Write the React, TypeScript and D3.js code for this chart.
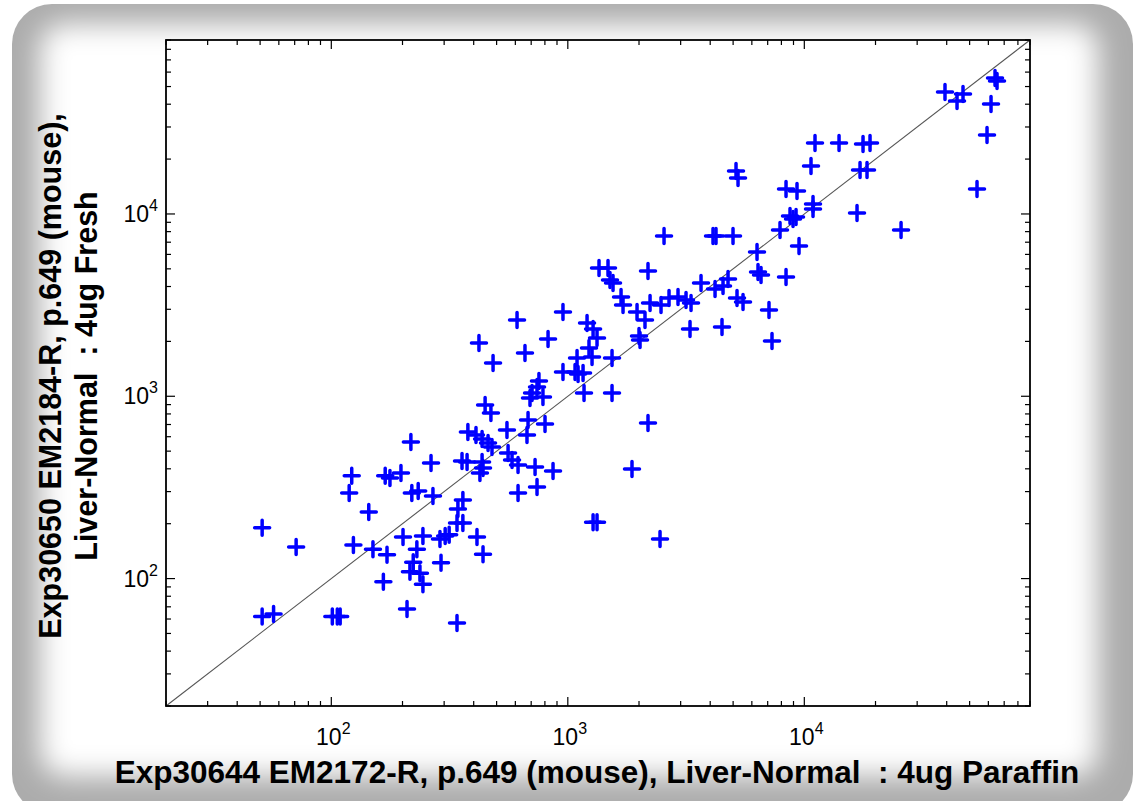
import React, { useEffect, useRef } from 'react';
import * as d3 from 'd3';

// values (x: 4ug Paraffin, y: 4ug Fresh)
const paraffin = [
  51, 71, 51, 57, 101, 106, 109, 122, 119, 144, 124, 150, 172, 169, 177, 197, 201, 244, 230, 222,
  291, 215, 237, 166, 244, 209, 340, 288, 303, 315, 340, 413, 438, 217, 264, 219, 233, 269, 360, 343,
  360, 378, 409, 434, 460, 478, 357, 375, 434, 438, 425, 559, 581, 616, 727, 866, 616, 741, 1279, 447,
  473, 553, 679, 801, 672, 755, 741, 706, 785, 692, 1171, 1538, 2183, 1868, 1329, 2454, 421, 483, 610, 659,
  825, 954, 954, 1073, 1105, 1160, 1094, 1206, 1279, 1329, 1229, 1266, 1538, 1355, 1479, 1508, 1553, 2183, 1679, 1712,
  1962, 2120, 2227, 2478, 2679, 2924, 3161, 3319, 3658, 4193, 4532, 4758, 5193, 5506, 2000, 2020, 3286, 4487, 2552, 4111,
  4232, 4995, 6310, 6371, 6561, 8369, 7090, 7301, 5143, 5245, 8369, 9313, 10884, 10884, 8700, 8959, 9225, 7893, 9497, 16706,
  10673, 17203, 18414, 11097, 14023, 17711, 18960, 25646, 39340, 44230, 46880, 64030, 65290, 61580, 59230, 53730,
];
const fresh = [
  190, 149, 62, 64, 62, 62, 62, 366, 295, 232, 153, 145, 135, 366, 356, 380, 169, 171, 145, 123,
  122, 109, 107, 96, 93, 68, 57, 165, 171, 174, 202, 169, 136, 561, 431, 295, 302, 284, 270, 241,
  202, 637, 614, 583, 554, 527, 442, 436, 436, 404, 380, 489, 447, 420, 409, 389, 295, 318, 204, 896,
  810, 653, 741, 705, 614, 1213, 1125, 1043, 991, 979, 1043, 1043, 714, 399, 204, 165, 1961, 1523, 2621, 1728,
  2062, 2900, 1360, 1360, 1325, 1342, 1622, 2523, 2339, 2088, 1841, 1643, 1622, 5056, 5056, 4345, 4183, 4868, 3505, 3168,
  2900, 2621, 3249, 3168, 3461, 3505, 3375, 3249, 4183, 3878, 4028, 4399, 3461, 3290, 2141, 2036, 2339, 2399, 7574, 7574,
  7574, 7574, 6189, 4808, 4628, 4512, 2974, 2011, 17218, 15763, 13714, 13372, 11347, 10652, 9750, 9389, 9630, 8172, 6675, 10127,
  18336, 17436, 17436, 24522, 24522, 24210, 24522, 8172, 46694, 41690, 45530, 55720, 53660, 40130, 27130, 13714,
];
const axisDomain = [20, 90000];
const labelPowers = [2, 3, 4];
const xTitle = 'Exp30644 EM2172-R, p.649 (mouse), Liver-Normal  : 4ug Paraffin';
const yTitle1 = 'Exp30650 EM2184-R, p.649 (mouse),';
const yTitle2 = 'Liver-Normal  : 4ug Fresh';

const FONT = "'Liberation Sans', Arial, Helvetica, sans-serif";

const App = () => {
  const ref = useRef(null);

  useEffect(() => {
    const svg = d3.select(ref.current);
    svg.selectAll('*').remove();

    const W = 1136;
    const H = 801;
    const left = 166, right = 1030, top = 40, bottom = 706;

    const x = d3.scaleLog().domain(axisDomain).range([left, right]);
    const y = d3.scaleLog().domain(axisDomain).range([bottom, top]);

    // frame with soft gray border
    const defs = svg.append('defs');
    defs.append('filter').attr('id', 'soft')
      .attr('x', '-10%').attr('y', '-10%').attr('width', '120%').attr('height', '120%')
      .append('feGaussianBlur').attr('stdDeviation', 14);

    svg.append('rect').attr('width', W).attr('height', H).attr('fill', '#fff');
    svg.append('rect')
      .attr('x', 12).attr('y', 4).attr('width', 1121).attr('height', 810)
      .attr('rx', 40).attr('fill', '#acacac');
    svg.append('rect')
      .attr('x', 40).attr('y', 24).attr('width', 1058).attr('height', 752)
      .attr('rx', 24).attr('fill', '#fff').attr('filter', 'url(#soft)');

    // plot box
    svg.append('rect')
      .attr('x', left).attr('y', top).attr('width', right - left).attr('height', bottom - top)
      .attr('fill', '#fff');

    const ticks = x.ticks();
    const isMajor = v => Math.abs(Math.log10(v) - Math.round(Math.log10(v))) < 1e-9;
    const tg = svg.append('g').attr('stroke', '#000').attr('stroke-width', 1.2);
    ticks.forEach(v => {
      const len = isMajor(v) ? 9 : 5;
      tg.append('line').attr('x1', x(v)).attr('x2', x(v)).attr('y1', bottom).attr('y2', bottom - len);
      tg.append('line').attr('x1', x(v)).attr('x2', x(v)).attr('y1', top).attr('y2', top + len);
      tg.append('line').attr('y1', y(v)).attr('y2', y(v)).attr('x1', left).attr('x2', left + len);
      tg.append('line').attr('y1', y(v)).attr('y2', y(v)).attr('x1', right).attr('x2', right - len);
    });

    // diagonal y = x
    svg.append('line')
      .attr('x1', x(axisDomain[0])).attr('y1', y(axisDomain[0]))
      .attr('x2', x(axisDomain[1])).attr('y2', y(axisDomain[1]))
      .attr('stroke', '#555').attr('stroke-width', 1.1);

    // markers
    const pts = paraffin.map((p, i) => [p, fresh[i]]);
    const arm = 7.5;
    const mg = svg.append('g')
      .attr('stroke', '#0000ff').attr('stroke-width', 3.5).attr('stroke-linecap', 'round');
    mg.selectAll('path').data(pts).join('path')
      .attr('d', d => {
        const cx = x(d[0]), cy = y(d[1]);
        return `M${cx - arm},${cy}H${cx + arm}M${cx},${cy - arm}V${cy + arm}`;
      });

    // axis frame
    svg.append('rect')
      .attr('x', left).attr('y', top).attr('width', right - left).attr('height', bottom - top)
      .attr('fill', 'none').attr('stroke', '#000').attr('stroke-width', 1.8);

    // tick labels
    labelPowers.forEach(p => {
      const v = Math.pow(10, p);
      const tx = svg.append('text')
        .attr('x', x(v) + 2).attr('y', bottom + 39)
        .attr('text-anchor', 'middle')
        .attr('font-family', FONT).attr('font-size', 23);
      tx.append('tspan').text('10');
      tx.append('tspan').attr('font-size', 16).attr('dy', -11).text(p);

      const ty = svg.append('text')
        .attr('x', 158).attr('y', y(v) + 8)
        .attr('text-anchor', 'end')
        .attr('font-family', FONT).attr('font-size', 23);
      ty.append('tspan').text('10');
      ty.append('tspan').attr('font-size', 16).attr('dy', -11).text(p);
    });

    // titles
    svg.append('text')
      .attr('x', 597).attr('y', 783)
      .attr('text-anchor', 'middle')
      .attr('font-family', FONT).attr('font-weight', 'bold').attr('font-size', 31.5)
      .style('white-space', 'pre')
      .text(xTitle);

    const cy = 376;
    svg.append('text')
      .attr('transform', `translate(61,${cy}) rotate(-90)`)
      .attr('text-anchor', 'middle')
      .attr('font-family', FONT).attr('font-weight', 'bold').attr('font-size', 30.5)
      .style('white-space', 'pre')
      .text(yTitle1);
    svg.append('text')
      .attr('transform', `translate(97,${cy}) rotate(-90)`)
      .attr('text-anchor', 'middle')
      .attr('font-family', FONT).attr('font-weight', 'bold').attr('font-size', 30.5)
      .style('white-space', 'pre')
      .text(yTitle2);
  }, []);

  return (
    <svg ref={ref} width="1136" height="801"
      style={{ position: 'absolute', left: 0, top: 0, display: 'block' }} />
  );
};

export default App;
